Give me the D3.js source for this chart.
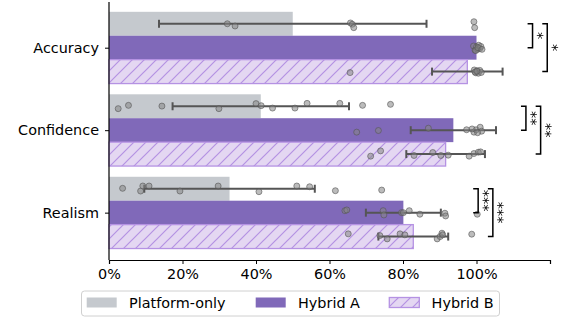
<html>
<head>
<title>Ratings by condition</title>
<script type="text/javascript" src="https://cdn.jsdelivr.net/npm/d3@7"></script>
<style>
  body { margin: 0; background: #fff; }
  svg text { font-family: "DejaVu Sans", sans-serif; }
</style>
</head>
<body>
<div id="chart"></div>
<script type="text/javascript">

// categories and groups
var categories = ["Accuracy", "Confidence", "Realism"];
var groups = ["Platform-only", "Hybrid A", "Hybrid B"];

// bar means (%), per group, in category order
var meanPlatform = [50.0, 41.3, 32.8];
var meanHybridA = [100.0, 93.7, 80.1];
var meanHybridB = [97.5, 91.6, 82.8];

// error bar half widths (%)
var errPlatform = [36.4, 24.0, 23.2];
var errHybridA = [0.0, 11.6, 10.2];
var errHybridB = [9.6, 10.7, 9.5];

var pointValues = [
  [
    [32.2, 34.3, 65.7, 66.2, 66.6, 99.3, 99.5],
    [99.2, 99.6, 100.0, 100.3, 100.6, 100.9, 101.2, 99.8, 100.4, 101.5],
    [65.6, 99.4, 99.8, 100.2, 100.5, 100.9, 101.3, 99.6, 100.1]
  ],
  [
    [2.5, 5.3, 14.4, 29.9, 40.0, 41.4, 44.5, 50.6, 53.9, 62.8, 69.0, 76.6],
    [67.4, 73.3, 86.9, 97.3, 99.3, 99.9, 101.0, 101.4, 100.3, 98.8],
    [71.2, 73.9, 83.0, 88.1, 90.3, 92.3, 98.0, 99.3, 100.5, 101.1]
  ],
  [
    [3.7, 8.6, 9.2, 10.9, 19.3, 29.7, 40.8, 51.1, 54.6, 61.6, 74.2],
    [64.2, 64.7, 74.6, 74.8, 79.6, 80.1, 81.7, 84.6, 91.4, 91.6, 100.2],
    [65.1, 73.7, 75.7, 79.2, 80.5, 89.3, 90.1, 90.6, 90.8, 98.7]
  ]
];

// strip jitter (category units) for the same points
var pointJitter = [
  [
    [0, .027, -.01, .006, .047, -.025, .047],
    [-.02, .03, -.01, .02, -.03, .01, -.015, .035, 0, .02],
    [.012, -.02, .015, -.01, .02, -.015, .01, .005, -.005]
  ],
  [
    [.029, -.011, -.002, .029, -.032, -.007, .022, .022, -.035, -.035, -.011, -.023],
    [.024, .004, -.024, -.005, .024, -.005, -.036, .012, .031, -.015],
    [.025, -.039, .017, -.019, .017, .013, .025, -.007, -.023, -.027]
  ],
  [
    [-.005, .028, -.033, -.033, .028, -.033, .036, -.033, -.024, .024, .016],
    [-.024, -.033, -.024, .028, 0, 0, -.024, .019, .007, .04, .019],
    [-.033, -.012, .028, -.033, -.021, .028, 0, -.041, -.021, -.029]
  ]
];

// significance labels: [Platform vs Hybrid A, Platform vs Hybrid B]
var sigLabels = [["*", "*"], ["**", "**"], ["***", "***"]];

var xTicks = [0, 20, 40, 60, 80, 100];

window.onload = function() {
  var width = 581, height = 324;
  var means = [meanPlatform, meanHybridA, meanHybridB];
  var errs = [errPlatform, errHybridA, errHybridB];

  var colGray = "#c5c9ce";
  var colPurple = "#8069b9";
  var colLight = "#e4d7f2";
  var colHatch = "#b592e3";
  var colErr = "#555555";

  var x = d3.scaleLinear().domain([0, 120]).range([109, 550]);
  var y = d3.scaleLinear().domain([-0.554, 2.574]).range([2, 260]);

  var offset = 0.29;   // group offset in category units
  var barH = 0.29;

  var svg = d3.select("#chart").append("svg")
    .attr("width", width)
    .attr("height", height);

  var defs = svg.append("defs");
  var pat = defs.append("pattern")
    .attr("id", "hatch")
    .attr("patternUnits", "userSpaceOnUse")
    .attr("width", 12)
    .attr("height", 12);
  pat.append("rect").attr("width", 12).attr("height", 12).attr("fill", colLight);
  pat.append("path")
    .attr("d", "M-3,3 L3,-3 M0,12 L12,0 M9,15 L15,9")
    .attr("stroke", colHatch)
    .attr("stroke-width", 1.2);

  function fillFor(g) {
    if (g == 0) return colGray;
    if (g == 1) return colPurple;
    return "url(#hatch)";
  }

  function groupY(c, g) {
    return c + (g - 1) * offset;
  }

  // bars
  var barLayer = svg.append("g");
  categories.forEach(function(cat, c) {
    groups.forEach(function(grp, g) {
      barLayer.append("rect")
        .attr("x", x(0))
        .attr("y", y(groupY(c, g) - barH / 2))
        .attr("width", x(means[g][c]) - x(0))
        .attr("height", y(barH) - y(0))
        .attr("fill", fillFor(g))
        .attr("stroke", g == 2 ? colHatch : "none")
        .attr("stroke-width", g == 2 ? 1.3 : 0);
    });
  });

  // error bars
  var errLayer = svg.append("g")
    .attr("stroke", colErr)
    .attr("stroke-width", 2);
  categories.forEach(function(cat, c) {
    groups.forEach(function(grp, g) {
      var cy = y(groupY(c, g));
      var lo = x(means[g][c] - errs[g][c]);
      var hi = x(means[g][c] + errs[g][c]);
      errLayer.append("line").attr("x1", lo).attr("x2", hi).attr("y1", cy).attr("y2", cy);
      errLayer.append("line").attr("x1", lo).attr("x2", lo).attr("y1", cy - 4).attr("y2", cy + 4);
      errLayer.append("line").attr("x1", hi).attr("x2", hi).attr("y1", cy - 4).attr("y2", cy + 4);
    });
  });

  // strip points
  var pointLayer = svg.append("g");
  categories.forEach(function(cat, c) {
    groups.forEach(function(grp, g) {
      pointValues[c][g].forEach(function(v, i) {
        pointLayer.append("circle")
          .attr("cx", x(v))
          .attr("cy", y(groupY(c, g) + pointJitter[c][g][i]))
          .attr("r", 3)
          .attr("fill", "#858585")
          .attr("fill-opacity", 0.55)
          .attr("stroke", "#555")
          .attr("stroke-opacity", 0.6)
          .attr("stroke-width", 1);
      });
    });
  });

  // significance brackets
  var sigLayer = svg.append("g");
  var starLayer = svg.append("g").style("opacity", 0.999);
  categories.forEach(function(cat, c) {
    var top = 0;
    groups.forEach(function(grp, g) {
      top = Math.max(top, means[g][c] + errs[g][c]);
    });
    [1, 2].forEach(function(g, k) {
      var left = top + 6.8 + k * 4.0;
      var xl = x(left), xv = x(left + 1.35);
      var y0 = y(groupY(c, 0)), y1 = y(groupY(c, g));
      sigLayer.append("path")
        .attr("d", "M" + xl + "," + y0 + "H" + xv + "V" + y1 + "H" + xl)
        .attr("fill", "none")
        .attr("stroke", "#000")
        .attr("stroke-width", 1.5);
      var tx = xv + 6.5, ty = (y0 + y1) / 2;
      starLayer.append("text")
        .attr("transform", "translate(" + tx + "," + ty + ") rotate(-89.9)")
        .attr("text-anchor", "middle")
        .attr("dy", "0.59em")
        .attr("font-size", "14.4px")
        .attr("fill", "#000")
        .text(sigLabels[c][k]);
    });
  });

  // axes
  var xAxis = svg.append("g")
    .attr("transform", "translate(0," + y(2.574) + ")")
    .call(d3.axisBottom(x).tickValues(xTicks).tickSize(4).tickPadding(5)
      .tickFormat(function(d) { return d + "%"; }));
  xAxis.select(".domain").attr("stroke", "#000").attr("stroke-width", 1.2);
  xAxis.selectAll("text").attr("font-size", "14.4px").attr("font-family", "DejaVu Sans").attr("fill", "#000");

  var yAxis = svg.append("g")
    .attr("transform", "translate(" + x(0) + ",0)")
    .call(d3.axisLeft(y).tickValues([0, 1, 2]).tickSize(4).tickPadding(6)
      .tickFormat(function(d) { return categories[d]; }));
  yAxis.select(".domain").attr("d", "M0," + y(-0.554) + "V" + y(2.574)).attr("stroke", "#000").attr("stroke-width", 1.2);
  yAxis.selectAll("text").attr("font-size", "14.4px").attr("font-family", "DejaVu Sans").attr("fill", "#000");

  // legend
  var legend = svg.append("g");
  legend.append("rect")
    .attr("x", 81.5).attr("y", 291)
    .attr("width", 418).attr("height", 25)
    .attr("rx", 3)
    .attr("fill", "#fff")
    .attr("stroke", "#d0d0d0")
    .attr("stroke-width", 1);
  var legendX = [86.7, 255.7, 389.3];
  groups.forEach(function(grp, g) {
    legend.append("rect")
      .attr("x", legendX[g]).attr("y", 297.5)
      .attr("width", 30).attr("height", 10)
      .attr("fill", fillFor(g))
      .attr("stroke", g == 2 ? colHatch : "none")
      .attr("stroke-width", g == 2 ? 1.3 : 0);
    legend.append("text")
      .attr("x", legendX[g] + 42.3)
      .attr("y", 307.5)
      .attr("font-size", "14.4px")
      .attr("fill", "#000")
      .text(grp);
  });
};

</script>
</body>
</html>
